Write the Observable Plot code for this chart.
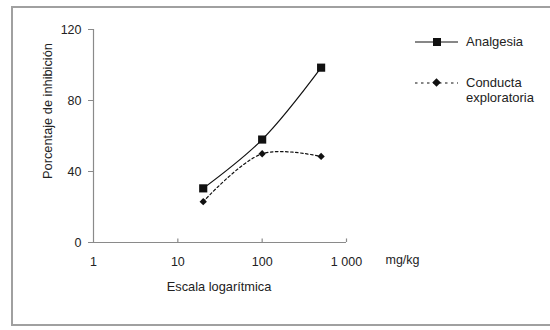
<!DOCTYPE html>
<html>
<head>
<meta charset="utf-8">
<script src="https://cdn.jsdelivr.net/npm/d3@7"></script>
<script src="https://cdn.jsdelivr.net/npm/@observablehq/plot@0.6"></script>
<style>
  html, body { margin: 0; padding: 0; background: #fff; }
  #wrap { position: relative; width: 550px; height: 330px; overflow: hidden; font-family: "Liberation Sans", Arial, sans-serif; }
  #frame { position: absolute; left: 11px; top: 6px; width: 560px; height: 320px; border: 2px solid #a0a0a0; box-sizing: border-box; }
  #chart { position: absolute; left: 0; top: 0; }
  .leg { position: absolute; left: 414px; font-size: 13px; color: #222; line-height: 15px; }
  .leg svg { position: absolute; left: 0; top: 0; }
  .leg span { position: absolute; left: 52px; white-space: nowrap; }
</style>
</head>
<body>
<div id="wrap">
  <div id="frame"></div>
  <div id="chart"></div>
  <div class="leg" id="leg1" style="top:34px"></div>
  <div class="leg" id="leg2" style="top:75px"></div>
</div>
<script>
const doses = [20, 100, 500];
const analgesia = [30.5, 58, 98.5];
const conducta = [23, 50, 48.5];
const xTicks = [1, 10, 100, 1000];
const xTickLabels = ["1", "10", "100", "1 000"];
const yTicks = [0, 40, 80, 120];
const seriesNames = ["Analgesia", "Conducta exploratoria"];

const dataA = doses.map((d, i) => ({dose: d, value: analgesia[i]}));
const dataC = doses.map((d, i) => ({dose: d, value: conducta[i]}));

const ink = "#222";
const axisColor = "#8a8a8a";

const chart = Plot.plot({
  width: 550,
  height: 330,
  marginLeft: 93,
  marginRight: 204,
  marginTop: 29,
  marginBottom: 88,
  style: {fontFamily: "'Liberation Sans', Arial, sans-serif", fontSize: "12px", color: ink, background: "transparent"},
  x: {type: "log", domain: [1, 1000]},
  y: {domain: [0, 120]},
  marks: [
    Plot.ruleX([1], {stroke: axisColor, strokeWidth: 1.2}),
    Plot.ruleY([0], {stroke: axisColor, strokeWidth: 1.2}),
    Plot.axisY({ticks: yTicks, tickSize: 5, tickPadding: 7, stroke: axisColor, fill: ink, label: null, fontSize: 12.5}),
    Plot.axisX({ticks: xTicks, tickSize: 0, tickPadding: 15, tickFormat: d => xTickLabels[xTicks.indexOf(d)], fill: ink, label: null, fontSize: 12.5}),
    Plot.ruleX(xTicks.slice(1), {x: d => d, y1: 0, y2: 2, stroke: axisColor, strokeWidth: 1.2}),
    Plot.text(["Porcentaje de inhibición"], {frameAnchor: "left", textAnchor: "middle", rotate: -90, dx: -46, dy: -25, fill: ink, fontSize: 12.8}),
    Plot.text(["Escala logarítmica"], {frameAnchor: "bottom", textAnchor: "middle", dx: -1, dy: 48, fill: ink, fontSize: 12.8}),
    Plot.text(["mg/kg"], {frameAnchor: "bottom-right", textAnchor: "start", dx: 39, dy: 21, fill: ink, fontSize: 12.5}),
    Plot.line(dataC, {x: "dose", y: "value", curve: "catmull-rom", stroke: "#111", strokeWidth: 1.2, strokeDasharray: "2.5,2.5"}),
    Plot.line(dataA, {x: "dose", y: "value", curve: "catmull-rom", stroke: "#111", strokeWidth: 1.2}),
    Plot.dot(dataA, {x: "dose", y: "value", symbol: "square", r: 4.6, fill: "#111", stroke: "none"}),
    Plot.dot(dataC, {x: "dose", y: "value", symbol: "diamond2", r: 3.3, fill: "#111", stroke: "none"})
  ]
});
document.getElementById("chart").appendChild(chart);

document.getElementById("leg1").innerHTML =
  `<svg width="50" height="15"><line x1="1" x2="44" y1="8" y2="8" stroke="#111" stroke-width="1.2"/><rect x="19" y="4" width="8" height="8" fill="#111"/></svg><span style="top:0">${seriesNames[0]}</span>`;
const parts = seriesNames[1].split(" ");
document.getElementById("leg2").innerHTML =
  `<svg width="50" height="15"><line x1="1" x2="44" y1="8" y2="8" stroke="#111" stroke-width="1.2" stroke-dasharray="2.5,3.5"/><rect x="19.5" y="4.5" width="6" height="6" fill="#111" transform="rotate(45 22.5 7.5)"/></svg><span style="top:0">${parts[0]}<br>${parts[1]}</span>`;
</script>
</body>
</html>
